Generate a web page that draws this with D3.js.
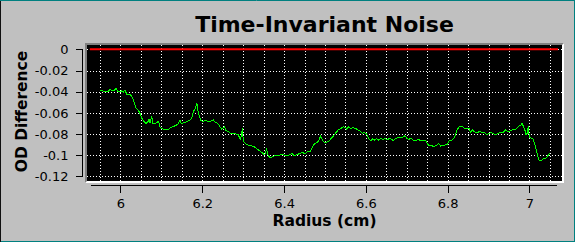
<!DOCTYPE html>
<html>
<head>
<meta charset="utf-8">
<script src="https://cdn.jsdelivr.net/npm/d3@7"></script>
<style>
  html, body { margin: 0; padding: 0; background: #c0c0c0; }
  svg { display: block; }
  text { font-family: "DejaVu Sans", sans-serif; fill: #000; }
</style>
</head>
<body>
<svg id="chart" width="575" height="242"></svg>
<script>
// ---------------- DATA ----------------
const radius = [
5.9499,5.9548,5.9597,5.9645,5.9694,5.9743,5.9792,5.9841,5.9890,5.9922,5.9971,6.0020,6.0068,6.0110,6.0151,6.0216,6.0257,6.0298,6.0338,6.0379,
6.0436,6.0494,6.0534,6.0583,6.0623,6.0664,6.0697,6.0721,6.0762,6.0787,6.0844,6.0885,6.0934,6.0966,6.1032,6.1096,6.1169,6.1227,6.1291,6.1357,
6.1413,6.1455,6.1487,6.1553,6.1619,6.1682,6.1741,6.1780,6.1822,6.1846,6.1870,6.1895,6.1927,6.1968,6.2024,6.2090,6.2156,6.2213,6.2269,6.2328,
6.2376,6.2433,6.2482,6.2538,6.2579,6.2636,6.2694,6.2758,6.2824,6.2880,6.2929,6.2963,6.2979,6.3003,6.3061,6.3125,6.3208,6.3271,6.3345,6.3411,
6.3477,6.3526,6.3575,6.3606,6.3655,6.3721,6.3802,6.3900,6.3998,6.4064,6.4127,6.4186,6.4249,6.4323,6.4389,6.4455,6.4511,6.4567,6.4633,6.4675,
6.4731,6.4797,6.4846,6.4885,6.4927,6.4976,6.5042,6.5098,6.5147,6.5203,6.5269,6.5325,6.5391,6.5447,6.5496,6.5531,6.5579,6.5628,6.5692,6.5758,
6.5807,6.5856,6.5905,6.5971,6.6019,6.6068,6.6117,6.6166,6.6215,6.6264,6.6313,6.6362,6.6411,6.6467,6.6523,6.6572,6.6631,6.6670,6.6719,6.6768,
6.6834,6.6900,6.6956,6.6998,6.7054,6.7103,6.7159,6.7225,6.7281,6.7340,6.7403,6.7462,6.7501,6.7550,6.7609,6.7665,6.7731,6.7780,6.7829,6.7878,
6.7934,6.7990,6.8032,6.8098,6.8154,6.8196,6.8235,6.8284,6.8318,6.8367,6.8416,6.8465,6.8528,6.8562,6.8602,6.8660,6.8724,6.8790,6.8846,6.8888,
6.8954,6.9010,6.9076,6.9132,6.9198,6.9254,6.9303,6.9360,6.9418,6.9467,6.9523,6.9580,6.9638,6.9687,6.9736,6.9785,6.9817,6.9849,6.9883,6.9914,
6.9946,6.9971,6.9995,7.0044,7.0093,7.0134,7.0176,7.0208,7.0240,7.0289,7.0338,7.0386,7.0435,7.0477,7.0509
];
const odDifference = [
-0.0384,-0.0390,-0.0400,-0.0393,-0.0397,-0.0378,-0.0390,-0.0393,-0.0368,-0.0393,-0.0400,-0.0393,-0.0403,-0.0384,-0.0422,-0.0425,-0.0434,-0.0463,-0.0510,-0.0557,
-0.0573,-0.0620,-0.0661,-0.0683,-0.0698,-0.0689,-0.0661,-0.0698,-0.0629,-0.0698,-0.0705,-0.0692,-0.0679,-0.0736,-0.0752,-0.0755,-0.0761,-0.0739,-0.0730,-0.0717,
-0.0705,-0.0667,-0.0705,-0.0692,-0.0683,-0.0673,-0.0651,-0.0588,-0.0566,-0.0535,-0.0510,-0.0579,-0.0629,-0.0673,-0.0679,-0.0673,-0.0683,-0.0676,-0.0667,-0.0692,
-0.0698,-0.0730,-0.0755,-0.0730,-0.0768,-0.0777,-0.0792,-0.0799,-0.0799,-0.0808,-0.0849,-0.0808,-0.0739,-0.0865,-0.0893,-0.0903,-0.0912,-0.0919,-0.0943,-0.0959,
-0.0981,-0.0997,-0.0943,-0.0997,-0.1023,-0.1013,-0.1000,-0.0997,-0.0997,-0.1007,-0.0997,-0.0981,-0.1003,-0.0994,-0.0981,-0.0972,-0.0988,-0.0966,-0.0966,-0.0934,
-0.0896,-0.0881,-0.0865,-0.0818,-0.0849,-0.0875,-0.0878,-0.0865,-0.0843,-0.0818,-0.0786,-0.0761,-0.0746,-0.0730,-0.0736,-0.0752,-0.0733,-0.0746,-0.0739,-0.0749,
-0.0761,-0.0768,-0.0792,-0.0786,-0.0799,-0.0843,-0.0862,-0.0846,-0.0856,-0.0843,-0.0856,-0.0840,-0.0849,-0.0843,-0.0853,-0.0843,-0.0849,-0.0865,-0.0846,-0.0834,
-0.0834,-0.0830,-0.0815,-0.0840,-0.0849,-0.0837,-0.0856,-0.0859,-0.0849,-0.0862,-0.0856,-0.0859,-0.0893,-0.0912,-0.0909,-0.0919,-0.0906,-0.0887,-0.0912,-0.0903,
-0.0903,-0.0896,-0.0862,-0.0856,-0.0840,-0.0799,-0.0755,-0.0730,-0.0724,-0.0730,-0.0746,-0.0752,-0.0749,-0.0783,-0.0761,-0.0780,-0.0783,-0.0777,-0.0786,-0.0780,
-0.0808,-0.0792,-0.0786,-0.0799,-0.0802,-0.0792,-0.0780,-0.0783,-0.0761,-0.0777,-0.0771,-0.0761,-0.0758,-0.0749,-0.0727,-0.0717,-0.0698,-0.0724,-0.0755,-0.0802,
-0.0792,-0.0724,-0.0830,-0.0840,-0.0849,-0.0903,-0.0966,-0.1013,-0.1051,-0.1051,-0.1032,-0.1032,-0.1013,-0.0988,-0.0981
];
// zero reference line (red)
const refRadius = [5.925, 7.07];
const refValue = [0, 0];

// tick labels
const xMajorTicks = [6, 6.2, 6.4, 6.6, 6.8, 7];
const xMinorTicks = [5.95,6.05,6.1,6.15,6.25,6.3,6.35,6.45,6.5,6.55,6.65,6.7,6.75,6.85,6.9,6.95,7.05];
const xGridTicks = [5.95,6,6.05,6.1,6.15,6.2,6.25,6.3,6.35,6.4,6.45,6.5,6.55,6.6,6.65,6.7,6.75,6.8,6.85,6.9,6.95,7,7.05];
const yMajorTicks = [0, -0.02, -0.04, -0.06, -0.08, -0.1, -0.12];
const yMinorTicks = d3.range(0, -0.1201, -0.004);

const titleText = "Time-Invariant Noise";
const xTitle = "Radius (cm)";
const yTitle = "OD Difference";

// ---------------- LAYOUT ----------------
const W = 575, H = 242;
const plot = { left: 87, right: 562, top: 45, bottom: 181 };
const xDomain = [5.9181, 7.0795];
const yDomain = [-0.12425, 0.00406];

const svg = d3.select("#chart");

// background and window border
svg.append("rect").attr("x", 0).attr("y", 0).attr("width", W).attr("height", H).attr("fill", "#c0c0c0");
svg.append("line").attr("x1", 0).attr("x2", W).attr("y1", 0.5).attr("y2", 0.5).attr("stroke", "#008080");
svg.append("line").attr("x1", 0.5).attr("x2", 0.5).attr("y1", 1).attr("y2", H).attr("stroke", "#101010");
svg.append("line").attr("x1", W - 0.5).attr("x2", W - 0.5).attr("y1", 0).attr("y2", H).attr("stroke", "#008080");
svg.append("line").attr("x1", 1).attr("x2", W).attr("y1", H - 0.5).attr("y2", H - 0.5).attr("stroke", "#008080");

// scales
const x = d3.scaleLinear().domain(xDomain).range([plot.left, plot.right]);
const y = d3.scaleLinear().domain(yDomain).range([plot.bottom, plot.top]);

// sunken frame around canvas
svg.append("rect").attr("x", plot.left - 2).attr("y", plot.top - 2)
  .attr("width", plot.right - plot.left + 4).attr("height", plot.bottom - plot.top + 4).attr("fill", "#ffffff");
svg.append("path")
  .attr("d", `M${plot.left - 2},${plot.bottom + 2} L${plot.left - 2},${plot.top - 2} L${plot.right + 2},${plot.top - 2} L${plot.right},${plot.top} L${plot.left},${plot.top} L${plot.left},${plot.bottom} Z`)
  .attr("fill", "#808080");
svg.append("rect").attr("x", plot.left).attr("y", plot.top)
  .attr("width", plot.right - plot.left).attr("height", plot.bottom - plot.top).attr("fill", "#000");

const clip = svg.append("defs").append("clipPath").attr("id", "clip")
  .append("rect").attr("x", plot.left).attr("y", plot.top)
  .attr("width", plot.right - plot.left).attr("height", plot.bottom - plot.top);

const canvas = svg.append("g").attr("clip-path", "url(#clip)");

// grid
canvas.append("g").selectAll("line.v").data(xGridTicks).join("line")
  .attr("x1", d => Math.round(x(d)) + 0.5).attr("x2", d => Math.round(x(d)) + 0.5)
  .attr("y1", plot.top).attr("y2", plot.bottom)
  .attr("stroke", "#ffffff").attr("stroke-width", 1).attr("stroke-dasharray", "1,2");
canvas.append("g").selectAll("line.h").data(yMajorTicks).join("line")
  .attr("y1", d => Math.round(y(d)) + 0.5).attr("y2", d => Math.round(y(d)) + 0.5)
  .attr("x1", plot.left).attr("x2", plot.right)
  .attr("stroke", "#ffffff").attr("stroke-width", 1).attr("stroke-dasharray", "1,2");

// reference line
const refData = refRadius.map((r, i) => [r, refValue[i]]);
canvas.append("path").datum(refData)
  .attr("d", d3.line().x(d => x(d[0])).y(d => y(d[1])))
  .attr("stroke", "#ff0000").attr("stroke-width", 2).attr("fill", "none");

// data curve
const series = radius.map((r, i) => [r, odDifference[i]]);
canvas.append("path").datum(series)
  .attr("d", d3.line().x(d => x(d[0])).y(d => y(d[1])))
  .attr("stroke", "#00ff00").attr("stroke-width", 1).attr("fill", "none")
  .attr("shape-rendering", "crispEdges");

// ---------------- AXES ----------------
const fmt = d => String(d);

// Y axis
const yAxisX = 82.5;
const yAxisG = svg.append("g").attr("transform", `translate(${yAxisX},0)`);
yAxisG.call(d3.axisLeft(y).tickValues(yMinorTicks).tickSize(4).tickFormat(""));
yAxisG.call(d3.axisLeft(y).tickValues(yMajorTicks).tickSize(7).tickPadding(7).tickFormat(fmt));
yAxisG.selectAll(".domain").remove();
yAxisG.append("line").attr("x1", 0).attr("x2", 0)
  .attr("y1", y(0)).attr("y2", y(-0.12) + 0.5).attr("stroke", "#000");
yAxisG.selectAll("line").attr("stroke", "#000").attr("shape-rendering", "crispEdges");
yAxisG.selectAll("text").attr("font-size", 13).attr("font-family", "DejaVu Sans").attr("fill", "#000");

// X axis
const xAxisY = 185.5;
const xAxisG = svg.append("g").attr("transform", `translate(0,${xAxisY})`);
xAxisG.call(d3.axisBottom(x).tickValues(xMinorTicks).tickSize(3.5).tickFormat(""));
xAxisG.call(d3.axisBottom(x).tickValues(xMajorTicks).tickSize(7).tickPadding(6.5).tickFormat(fmt));
xAxisG.selectAll(".domain").remove();
xAxisG.append("line").attr("x1", x(5.928)).attr("x2", x(7.067))
  .attr("y1", 0).attr("y2", 0).attr("stroke", "#000");
xAxisG.selectAll("line").attr("stroke", "#000").attr("shape-rendering", "crispEdges");
xAxisG.selectAll("text").attr("font-size", 13).attr("font-family", "DejaVu Sans").attr("fill", "#000");

// ---------------- TITLES ----------------
svg.append("text").attr("x", (plot.left + plot.right) / 2).attr("y", 31.5)
  .attr("text-anchor", "middle").attr("font-size", 22).attr("font-weight", "bold")
  .text(titleText);

svg.append("text").attr("x", (plot.left + plot.right) / 2).attr("y", 226)
  .attr("text-anchor", "middle").attr("font-size", 15.5).attr("font-weight", "bold")
  .text(xTitle);

svg.append("text").attr("transform", `translate(27,111.5) rotate(-90)`)
  .attr("text-anchor", "middle").attr("font-size", 15.5).attr("font-weight", "bold")
  .text(yTitle);
</script>
</body>
</html>
